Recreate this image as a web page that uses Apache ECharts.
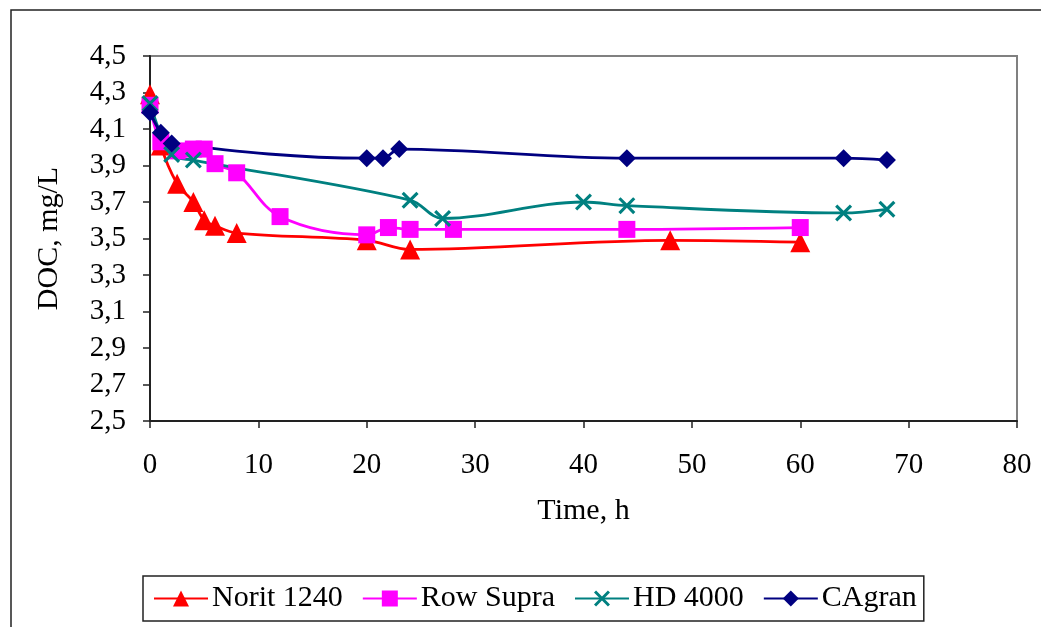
<!DOCTYPE html>
<html>
<head>
<meta charset="utf-8">
<script src="https://cdn.jsdelivr.net/npm/echarts@6/dist/echarts.min.js"></script>
<style>
  html, body { margin: 0; padding: 0; background: #fff; }
  #chart { width: 1041px; height: 627px; }
</style>
</head>
<body>
<div id="chart"></div>
<script>
// ---- Data ----
const seriesNames = ['Norit 1240', 'Row Supra', 'HD 4000', 'CAgran'];

const noritTime = [0, 1, 2.5, 4, 5, 6, 8, 20, 24, 48, 60];
const noritDoc  = [4.29, 4.01, 3.80, 3.70, 3.60, 3.57, 3.53, 3.49, 3.44, 3.49, 3.48];

const rowTime = [0, 1, 2.5, 4, 5, 6, 8, 12, 20, 22, 24, 28, 44, 60];
const rowDoc  = [4.23, 4.03, 3.98, 3.99, 3.99, 3.91, 3.86, 3.62, 3.52, 3.56, 3.55, 3.55, 3.55, 3.56];

const hdTime = [0, 2, 4, 24, 27, 40, 44, 64, 68];
const hdDoc  = [4.24, 3.96, 3.93, 3.71, 3.61, 3.70, 3.68, 3.64, 3.66];

const cagTime = [0, 1, 2, 20, 21.5, 23, 44, 64, 68];
const cagDoc  = [4.19, 4.08, 4.02, 3.94, 3.94, 3.99, 3.94, 3.94, 3.93];

const xTicks = [0, 10, 20, 30, 40, 50, 60, 70, 80];
const yTicks = [2.5, 2.7, 2.9, 3.1, 3.3, 3.5, 3.7, 3.9, 4.1, 4.3, 4.5];

// ---- Helpers ----
const zip = (t, v) => t.map((x, i) => [x, v[i]]);
const FONT = '"Liberation Serif", "Times New Roman", serif';
const xMark = 'path://M0,1.3 L1.3,0 L5,3.7 L8.7,0 L10,1.3 L6.3,5 L10,8.7 L8.7,10 L5,6.3 L1.3,10 L0,8.7 L3.7,5 Z';

function lineSeries(name, data, color, symbol, size) {
  return {
    name: name,
    type: 'line',
    data: data,
    smooth: 0.35,
    symbol: symbol,
    symbolSize: size,
    showAllSymbol: true,
    lineStyle: { color: color, width: 2.8 },
    itemStyle: { color: color, borderWidth: 0 },
    emphasis: { disabled: true },
    z: 3
  };
}

const chart = echarts.init(document.getElementById('chart'), null, { renderer: 'canvas' });

chart.setOption({
  animation: false,
  backgroundColor: '#ffffff',
  textStyle: { fontFamily: FONT },
  graphic: [{
    type: 'rect',
    shape: { x: 11, y: 10, width: 1100, height: 700 },
    style: { fill: 'none', stroke: '#222', lineWidth: 1.5 },
    silent: true,
    z: 0
  }],
  grid: {
    left: 150, right: 24, top: 56, bottom: 206,
    show: true,
    borderColor: '#808080',
    borderWidth: 2,
    backgroundColor: 'transparent'
  },
  legend: {
    left: 143,
    top: 576,
    padding: [6, 7, 6, 10],
    itemGap: 19,
    itemWidth: 54,
    itemHeight: 20,
    borderColor: '#222',
    borderWidth: 1.5,
    textStyle: { fontFamily: FONT, fontSize: 30, color: '#000', lineHeight: 33, padding: [0, 0, 0, -1] },
    data: seriesNames
  },
  xAxis: {
    type: 'value',
    min: 0, max: 80, interval: 10,
    name: 'Time, h',
    nameLocation: 'middle',
    nameGap: 75,
    nameTextStyle: { fontFamily: FONT, fontSize: 30, color: '#000' },
    axisLine: { show: true, lineStyle: { color: '#222', width: 2 } },
    axisTick: { show: true, inside: false, length: 7, lineStyle: { color: '#222', width: 1.5 }, customValues: xTicks },
    axisLabel: { fontFamily: FONT, fontSize: 29, color: '#000', margin: 30, customValues: xTicks },
    splitLine: { show: false }
  },
  yAxis: {
    type: 'value',
    min: 2.5, max: 4.5, interval: 0.2,
    name: 'DOC, mg/L',
    nameLocation: 'middle',
    nameRotate: 90,
    nameGap: 86,
    nameTextStyle: { fontFamily: FONT, fontSize: 30, color: '#000' },
    axisLine: { show: true, lineStyle: { color: '#222', width: 2 } },
    axisTick: { show: true, inside: false, length: 7, lineStyle: { color: '#222', width: 1.5 }, customValues: yTicks },
    axisLabel: {
      fontFamily: FONT, fontSize: 29, color: '#000', margin: 24,
      customValues: yTicks,
      formatter: v => v.toFixed(1).replace('.', ',')
    },
    splitLine: { show: false }
  },
  series: [
    lineSeries(seriesNames[0], zip(noritTime, noritDoc), '#FF0000', 'triangle', 20),
    lineSeries(seriesNames[1], zip(rowTime, rowDoc), '#FF00FF', 'rect', 17),
    lineSeries(seriesNames[2], zip(hdTime, hdDoc), '#008080', xMark, 17),
    lineSeries(seriesNames[3], zip(cagTime, cagDoc), '#000080', 'diamond', 18)
  ]
});
</script>
</body>
</html>
